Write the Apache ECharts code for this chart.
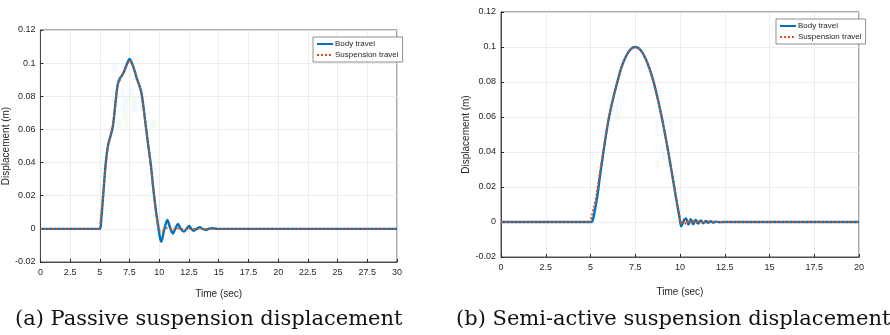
<!DOCTYPE html>
<html>
<head>
<meta charset="utf-8">
<script src="https://cdn.jsdelivr.net/npm/echarts@6/dist/echarts.min.js"></script>
<style>
html, body { margin: 0; padding: 0; background: #fff; }
#main { width: 890px; height: 335px; }
</style>
</head>
<body>
<div id="main"></div>
<script>
// ticks
var xTicksA = [0, 30, 2.5];
var xTicksB = [0, 20, 2.5];
var yTicks = [-0.02, 0.12, 0.02];

// (a) passive - [time, displacement]
var bodyPassive = [
	[0,0],[5,0],[5.1,0.004],[5.3,0.022],[5.5,0.04],[5.7,0.051],[5.9,0.056],[6.1,0.062],
	[6.3,0.075],[6.5,0.087],[6.7,0.091],[6.9,0.093],[7.1,0.096],[7.3,0.1],[7.5,0.1025],
	[7.7,0.1],[7.9,0.096],[8.1,0.091],[8.3,0.087],[8.5,0.082],[8.7,0.072],[8.9,0.06],
	[9.1,0.049],[9.3,0.038],[9.5,0.024],[9.7,0.012],[9.9,0.002],[10.05,-0.005],[10.17,-0.0077],
	[10.4,-0.001],[10.68,0.0054],[10.9,0.001],[11.15,-0.0028],[11.35,0],[11.57,0.003],
	[11.8,0],[12.07,-0.0017],[12.3,0],[12.52,0.0017],[12.7,0],[12.9,-0.0012],[13.15,0],
	[13.41,0.001],[13.65,0],[13.9,-0.0006],[14.15,0],[14.4,0.0004],[14.9,0],[30,0]
];
var suspPassive = [
	[0,0],[4.95,0],[5.05,0.005],[5.3,0.023],[5.5,0.039],[5.7,0.05],[5.9,0.056],[6.1,0.063],
	[6.3,0.075],[6.5,0.086],[6.7,0.09],[6.9,0.093],[7.1,0.096],[7.3,0.099],[7.5,0.1015],
	[7.7,0.0995],[7.9,0.096],[8.1,0.091],[8.3,0.087],[8.5,0.081],[8.7,0.071],[8.9,0.06],
	[9.1,0.049],[9.3,0.037],[9.5,0.024],[9.7,0.011],[9.9,0.002],[10.1,-0.0015],[10.35,-0.0008],
	[10.6,0.0005],[10.9,0],[11.15,-0.0004],[11.5,0.0003],[11.9,0],[30,0]
];

// (b) semi-active
var bodySemi = [
	[0,0],[5.05,0],[5.15,0.002],[5.25,0.007],[5.4,0.016],[5.5,0.024],[5.75,0.042],[6,0.058],
	[6.25,0.07],[6.5,0.08],[6.75,0.089],[7,0.095],[7.25,0.0988],[7.5,0.1],[7.75,0.0988],
	[8,0.095],[8.25,0.089],[8.5,0.081],[8.75,0.0707],[9,0.0588],[9.25,0.0454],[9.5,0.0309],
	[9.75,0.0156],[10,0.001],[10.07,-0.0025],[10.2,0.0005],[10.33,0.002],[10.47,-0.0015],
	[10.6,0.0016],[10.74,-0.0012],[10.88,0.0012],[11.02,-0.0009],[11.16,0.0009],[11.3,-0.0007],
	[11.44,0.0006],[11.58,-0.0005],[11.72,0.0004],[11.86,-0.0003],[12,0.0002],[12.2,-0.0001],
	[12.4,0],[20,0]
];
var suspSemi = [
	[0,0],[4.95,0],[5.05,0.003],[5.2,0.009],[5.35,0.017],[5.5,0.027],[5.75,0.043],[6,0.058],
	[6.25,0.07],[6.5,0.08],[6.75,0.089],[7,0.095],[7.25,0.0988],[7.5,0.1],[7.75,0.0988],
	[8,0.095],[8.25,0.089],[8.5,0.081],[8.75,0.0707],[9,0.0588],[9.25,0.0454],[9.5,0.0309],
	[9.75,0.0156],[10,0.0015],[10.05,-0.0015],[10.19,0.0015],[10.33,-0.0012],[10.47,0.0012],
	[10.61,-0.001],[10.75,0.001],[10.89,-0.0008],[11.03,0.0008],[11.17,-0.0006],[11.31,0.0005],
	[11.45,-0.0004],[11.6,0.0003],[11.8,-0.0002],[12,0.0001],[12.3,0],[20,0]
];

var captions = ['(a) Passive suspension displacement', '(b) Semi-active suspension displacement'];
var seriesNames = ['Body travel', 'Suspension travel'];

var ink = '#262626';
var axisFont = 'Liberation Sans Narrow, Liberation Sans, sans-serif';
var captionStyle = {fontFamily: 'DejaVu Serif, serif', fontWeight: 'normal', fontSize: 21, color: '#111'};

function xAxisOf(idx, ticks) {
	return {
		gridIndex: idx, type: 'value', min: ticks[0], max: ticks[1], interval: ticks[2],
		name: 'Time (sec)', nameLocation: 'middle', nameGap: idx == 0 ? 27 : 30,
		nameTextStyle: {color: ink, fontSize: 10, fontFamily: axisFont},
		axisLine: {onZero: false, lineStyle: {color: ink, width: 0.8}},
		axisTick: {inside: true, length: 3, lineStyle: {color: ink}},
		axisLabel: {color: ink, fontSize: 9, fontFamily: axisFont, margin: 6},
		splitLine: {show: true, lineStyle: {color: '#e8e8e8', width: 0.8}}
	};
}
function yAxisOf(idx) {
	return {
		gridIndex: idx, type: 'value', min: yTicks[0], max: yTicks[1], interval: yTicks[2],
		name: 'Displacement (m)', nameLocation: 'middle', nameGap: idx == 0 ? 29 : 28,
		nameTextStyle: {color: ink, fontSize: 10, fontFamily: axisFont},
		axisLine: {show: true, onZero: false, lineStyle: {color: ink, width: 0.8}},
		axisTick: {show: true, inside: true, length: 3, lineStyle: {color: ink}},
		axisLabel: {color: ink, fontSize: 9, fontFamily: axisFont, margin: 5},
		splitLine: {show: true, lineStyle: {color: '#e8e8e8', width: 0.8}}
	};
}
function bodyLine(idx, data) {
	return {
		name: seriesNames[0], type: 'line', xAxisIndex: idx, yAxisIndex: idx, data: data,
		showSymbol: false, symbol: 'none', smooth: 0.3, z: 2,
		lineStyle: {color: '#0072BD', width: 2.4}, itemStyle: {color: '#0072BD'}
	};
}
function suspLine(idx, data) {
	return {
		name: seriesNames[1], type: 'line', xAxisIndex: idx, yAxisIndex: idx, data: data,
		showSymbol: false, symbol: 'none', smooth: 0.3, z: 3,
		lineStyle: {color: '#D95319', width: 1.8, type: [2, 2]}, itemStyle: {color: '#D95319'}
	};
}
function legendOf(left, top, w) {
	return {
		orient: 'vertical', left: left, top: top, width: w,
		data: seriesNames, itemWidth: 16, itemHeight: 6, itemGap: 3, padding: [3, 4, 3, 3],
		backgroundColor: '#fff', borderColor: '#444', borderWidth: 0.6,
		itemStyle: {opacity: 0},
		textStyle: {color: ink, fontSize: 8, fontFamily: axisFont, padding: [0, 0, 0, -3]},
		selectedMode: false
	};
}

var chart = echarts.init(document.getElementById('main'));
chart.setOption({
	animation: false,
	backgroundColor: '#fff',
	title: [
		{text: captions[0], left: 15, top: 309, padding: 0, textStyle: captionStyle},
		{text: captions[1], left: 456, top: 309, padding: 0, textStyle: captionStyle}
	],
	grid: [
		{left: 39, top: 30, width: 358, height: 232, show: true, borderColor: ink, borderWidth: 0.8, backgroundColor: '#fff'},
		{left: 501, top: 12, width: 358, height: 245, show: true, borderColor: ink, borderWidth: 0.8, backgroundColor: '#fff'}
	],
	legend: [legendOf(313, 37, 80), legendOf(776, 19, 78)],
	xAxis: [xAxisOf(0, xTicksA), xAxisOf(1, xTicksB)],
	yAxis: [yAxisOf(0), yAxisOf(1)],
	series: [
		bodyLine(0, bodyPassive), suspLine(0, suspPassive),
		bodyLine(1, bodySemi), suspLine(1, suspSemi)
	]
});
</script>
</body>
</html>
